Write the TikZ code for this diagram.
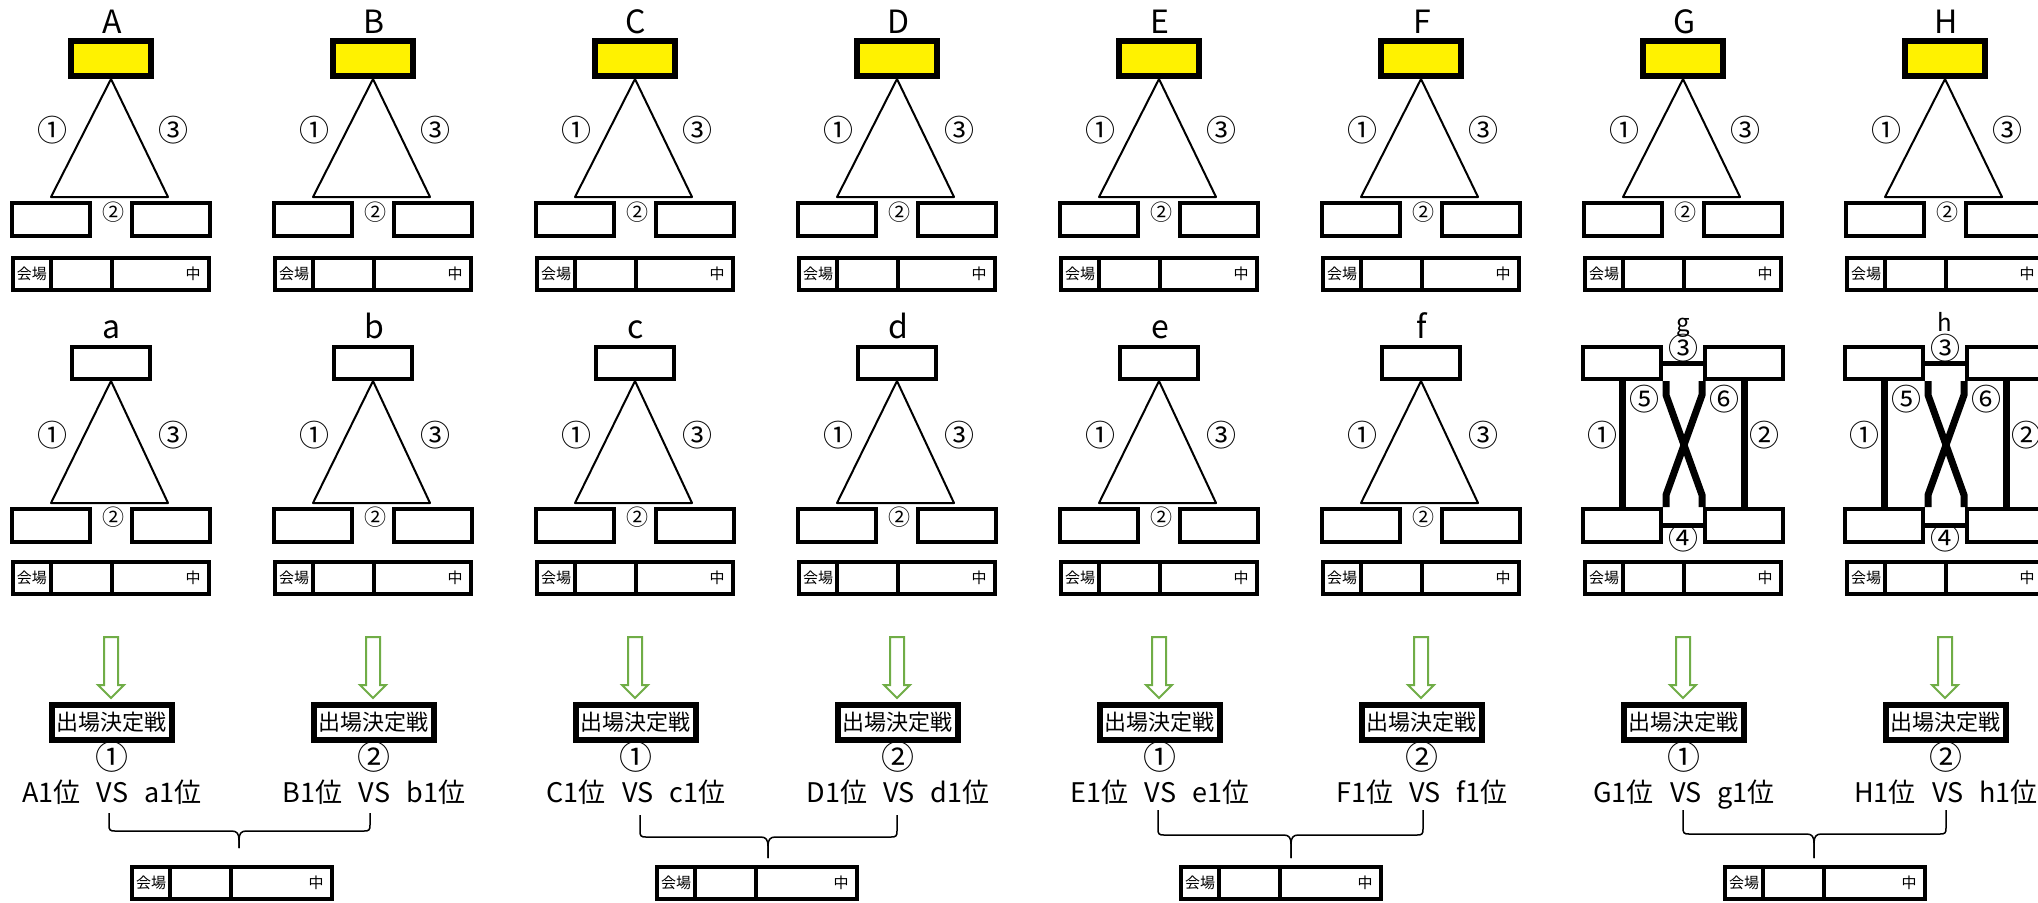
\documentclass[tikz,border=0pt]{standalone}
\usepackage{fontspec}
\setmainfont{Noto Sans CJK JP}
\definecolor{arrowgreen}{RGB}{112,173,71}
\newcommand\fsz[1]{\fontsize{#1}{#1}\selectfont}
\newcommand\kaijo[4]{%
  \draw[vbline] (#1+2,#2+2) rectangle (#1+#3-2,#2+34);
  \draw[vbline] (#1+40,#2+2) -- (#1+40,#2+34);
  \draw[vbline] (#1+101,#2+2) -- (#1+101,#2+34);
  \node[tinytxt] (#4k) at (#1+21,#2+18) {会場};
  \node[tinytxt] (#4n) at (#1+#3-18,#2+18) {中};
}
\newcommand\bracepath[7]{%
  \coordinate (#7l) at (#1,#4);
  \coordinate (#7r) at (#2,#4);
  \coordinate (#7m) at (#3,#6);
  \draw[bracel] (#7l) -- (#1,#5-6) .. controls (#1,#5-1) and (#1+1,#5) .. (#1+6,#5) -- (#3-7,#5) .. controls (#3-2,#5) and (#3,#5+3) .. (#3,#5+9) -- (#7m);
  \draw[bracel] (#7r) -- (#2,#5-6) .. controls (#2,#5-1) and (#2-1,#5) .. (#2-6,#5) -- (#3+7,#5) .. controls (#3+2,#5) and (#3,#5+3) .. (#3,#5+9) -- (#7m);
}
\begin{document}
\begin{tikzpicture}[x=0.5pt,y=-0.5pt,
  biglab/.style={font=\fsz{16pt}, inner sep=0pt},
  smalllab/.style={font=\fsz{12pt}, inner sep=0pt},
  num/.style={font=\fsz{15pt}, inner sep=0pt},
  numsm/.style={font=\fsz{11pt}, inner sep=0pt},
  tinytxt/.style={font=\fsz{7.5pt}, inner sep=0pt},
  yel/.style={draw, line width=3pt, fill=yellow, minimum width=40pt, minimum height=17.5pt, inner sep=0pt},
  wbox/.style={draw, line width=2pt, minimum width=39pt, minimum height=16.5pt, inner sep=0pt},
  tbox/.style={draw, line width=2pt, minimum width=39pt, minimum height=16pt, inner sep=0pt},
  kettei/.style={draw, line width=3pt, fill=white, minimum width=60pt, minimum height=17.5pt, inner sep=0pt, font=\fsz{11pt}},
  bnum/.style={font=\fsz{16.5pt}, inner sep=0pt},
  vsline/.style={font=\fsz{13.5pt}, inner sep=0pt},
  triline/.style={line width=1pt, line join=round},
  vbline/.style={line width=2pt},
  hbar/.style={line width=2.5pt},
  vpost/.style={line width=3.5pt},
  xstroke/.style={line width=3.5pt, line join=miter},
  garrow/.style={draw=arrowgreen, line width=1pt, line join=miter},
  bracel/.style={line width=0.75pt}]
\useasboundingbox (0,0) rectangle (2038,902);
\fill[white] (0,0) rectangle (2038,902);
\clip (0,0) rectangle (2038,902);
\foreach \i/\up/\lo/\nn in {0/A/a/①,1/B/b/②,2/C/c/①,3/D/d/②,4/E/e/①,5/F/f/②,6/G/g/①,7/H/h/②}{
  \pgfmathsetmacro\cx{111+262*\i}
  % upper block
  \node[biglab,anchor=base] (U\i) at (\cx+1,33) {\up};
  \node[yel] (Y\i) at (\cx,58.5) {};
  \draw[triline] (Y\i.south) -- (\cx-60,197) -- (\cx+57,197) -- cycle;
  \node[num] (Ua\i) at (\cx-59,130) {①};
  \node[num] (Uc\i) at (\cx+62,130) {③};
  \node[wbox] (UL\i) at (\cx-60,219.5) {};
  \node[wbox] (UR\i) at (\cx+60,219.5) {};
  \node[numsm] (Ub\i) at (\cx+2,212) {②};
  \kaijo{\cx-100}{255.5}{200}{UK\i}
  % lower block
  \ifnum\i<6
    \node[biglab,anchor=base] (La\i) at (\cx+1,338) {\lo};
    \node[tbox] (T\i) at (\cx,363) {};
    \draw[triline] (T\i.south) -- (\cx-60,503) -- (\cx+57,503) -- cycle;
    \node[num] (Lp\i) at (\cx-59,435) {①};
    \node[num] (Lr\i) at (\cx+62,435) {③};
    \node[wbox] (LL\i) at (\cx-60,525) {};
    \node[wbox] (LR\i) at (\cx+60,525) {};
    \node[numsm] (Lq\i) at (\cx+2,517) {②};
  \else
    \node[smalllab,anchor=base] (La\i) at (\cx,331) {\lo};
    \node[tbox] (XTL\i) at (\cx-61,363) {};
    \node[tbox] (XTR\i) at (\cx+61,363) {};
    \node[wbox] (XBL\i) at (\cx-61,525) {};
    \node[wbox] (XBR\i) at (\cx+61,525) {};
    \draw[hbar] (XTL\i.east) -- (XTR\i.west);
    \draw[hbar] (XBL\i.east) -- (XBR\i.west);
    \draw[vpost] (XTL\i.south) -- (XBL\i.north);
    \draw[vpost] (XTR\i.south) -- (XBR\i.north);
    \draw[xstroke] (\cx-17,381) -- (\cx-17,395) -- (\cx+19,495) -- (\cx+19,507);
    \draw[xstroke] (\cx+19,381) -- (\cx+19,395) -- (\cx-17,495) -- (\cx-17,507);
    \node[num] (X3\i) at (\cx,348) {③};
    \node[num] (X4\i) at (\cx,538) {④};
    \node[num] (X5\i) at (\cx-39,399) {⑤};
    \node[num] (X6\i) at (\cx+41,399) {⑥};
    \node[num] (X1\i) at (\cx-81,435) {①};
    \node[num] (X2\i) at (\cx+81,435) {②};
  \fi
  \kaijo{\cx-100}{559.5}{200}{LK\i}
  % bottom part
  \draw[garrow] (\cx-7,637) -- (\cx+7,637) -- (\cx+7,685) -- (\cx+13,685) -- (\cx,698) -- (\cx-13,685) -- (\cx-7,685) -- cycle;
  \node[kettei] (K\i) at (\cx+0.5,722.5) {出場決定戦};
  \node[bnum] (N\i) at (\cx+1,757) {\nn};
  \node[vsline,anchor=base] (V\i) at (\cx+1,802) {\up1位\hspace{0.6em}VS\hspace{0.6em}\lo1位};
}
\bracepath{109}{370}{239}{813}{831}{848}{Ba}
\bracepath{640}{897}{768}{815}{837}{858}{Bb}
\bracepath{1158}{1423}{1291}{810}{835}{858}{Bc}
\bracepath{1683}{1946}{1814}{810}{834}{858}{Bd}
\kaijo{130}{865}{204}{BKa}
\kaijo{655}{865}{204}{BKb}
\kaijo{1179}{865}{204}{BKc}
\kaijo{1723}{865}{204}{BKd}
\end{tikzpicture}
\end{document}
